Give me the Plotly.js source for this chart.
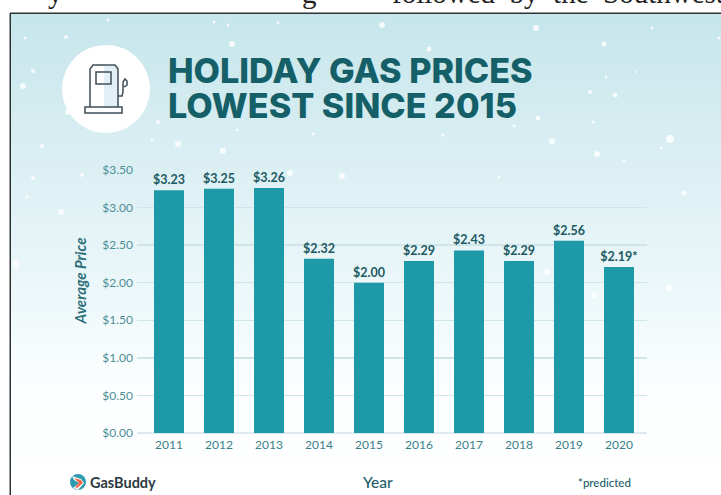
<!DOCTYPE html>
<html><head><meta charset="utf-8">
<script src="https://cdn.plot.ly/plotly-3.0.1.min.js"></script>
<style>
html,body{margin:0;padding:0;background:#fff;width:721px;height:495px;overflow:hidden}
#bg{position:absolute;left:11px;top:14px;width:710px;height:481px;background:linear-gradient(180deg,#c6e6eb 0%,#dff1f5 37%,#edf8fa 59%,#fbfeff 76%,#ffffff 100%)}
#chart{position:absolute;left:0;top:0;width:721px;height:495px}
</style></head><body>
<div id="bg"></div><div id="chart"></div>
<script>
const years=['2011','2012','2013','2014','2015','2016','2017','2018','2019','2020'];
const prices=[3.23,3.25,3.26,2.32,2.00,2.29,2.43,2.29,2.56,2.21];
const priceLabels=['$3.23','$3.25','$3.26','$2.32','$2.00','$2.29','$2.43','$2.29','$2.56','$2.19*'];
const snowX=[108,214,228,278,66,25,232,33,23,68,158,237,152,178,223,42,82,33,290,342,313,382,536,652,604,429,719,606,636,590,615,538,514,593,443,552,597,670,661,624,499,684,61,16,27,547,594,669];
const snowY=[20,22,25,23,37,38,44,71,86,112,122,130,140,144,151,146,175,178,173,176,134,25,28,28,44,49,38,77,72,92,95,118,126,122,135,141,154,139,148,161,177,193,212,264,197,272,295,288];
const snowR=[1.5,1.5,1.5,1.5,2,1.5,3,2,3,3,2,1.5,1.5,3,3,2,2,2,3,3,1.5,3,3,1.5,2.5,2.5,1.5,1.5,1,2,2.5,2.5,1.5,1.5,1.5,3,3,4,1.5,1.5,1.5,2.5,3,3.5,1.5,3,3,3];
const W=721,H=495;
const px=x=>x/W, py=y=>1-y/H;
const shapes=[];
function circ(x,y,r,fill,line){shapes.push({type:'circle',layer:'below',xref:'paper',yref:'paper',x0:px(x-r),x1:px(x+r),y0:py(y+r),y1:py(y-r),fillcolor:fill,line:line||{width:0}});}
function rect(x0,y0,x1,y1,fill,line,layer){shapes.push({type:'rect',layer:layer||'below',xref:'paper',yref:'paper',x0:px(x0),x1:px(x1),y0:py(y1),y1:py(y0),fillcolor:fill,line:line||{width:0}});}
function path(pts,close,fill,line){const d=pts.map((p,i)=>(i?'L':'M')+px(p[0])+','+py(p[1])).join(' ')+(close?' Z':'');shapes.push({type:'path',layer:'below',xref:'paper',yref:'paper',path:d,fillcolor:fill||'rgba(0,0,0,0)',line:line});}
snowX.forEach((x,i)=>circ(x,snowY[i],snowR[i],'rgba(255,255,255,0.8)'));
circ(106,89,44,'#ffffff');
const ink={color:'#3e4f59',width:1.5};
rect(104,66,118,107,'#e2f0f5');
path([[90,107],[90,69],[93,65],[115,65],[118,69],[118,107]],false,null,ink);
rect(96,72,111,84,'rgba(0,0,0,0)',ink);
rect(85,107,122,113,'#ffffff',ink);
path([[118,96],[122,96],[123,92],[123,82],[125,79],[127,81],[127,85],[124,87]],false,null,ink);
rect(10,12.5,721,14,'#2e3436');
rect(9.5,13,11,495,'#2e3436');
circ(78,482,8,'#2e9cb0');
path([[72,476],[81,479],[84,483],[78,490],[73,488],[79,483],[74,480]],true,'#ffffff',{width:0});
path([[74,478],[81,480],[83,483],[77,488],[75,487],[79,483]],true,'#ee6a4d',{width:0});
const ann=[
 {text:'HOLIDAY GAS PRICES',x:165.5,y:70,size:34.2,color:'#155f68',anchor:'left',weight:800,fam:'Inter, sans-serif'},
 {text:'LOWEST SINCE 2015',x:165.5,y:105,size:34.2,color:'#155f68',anchor:'left',weight:800,fam:'Inter, sans-serif'},
 {text:'GasBuddy',x:88,y:482,size:14.5,color:'#2b3a42',anchor:'left',weight:700},
 {text:'Year',x:377,y:482,size:15.5,color:'#1d5f68',anchor:'center',weight:500},
 {text:'*predicted',x:604,y:482,size:11.5,color:'#1d5f68',anchor:'center',weight:500}
].map(a=>({text:a.text,xref:'paper',yref:'paper',x:px(a.x),y:py(a.y),xanchor:a.anchor,yanchor:'middle',showarrow:false,
  font:{family:a.fam||'Lato, sans-serif',size:a.size,color:a.color,weight:a.weight}}));
ann.push({text:'<i><b>Average Price</b></i>',xref:'paper',yref:'paper',x:px(79),y:py(281.5),xanchor:'center',yanchor:'middle',textangle:-90,showarrow:false,font:{family:'Lato, sans-serif',size:15,color:'#2c6f78'}});
const serif={family:'Liberation Serif, serif',size:29,color:'#222'};
ann.push({text:'followed&nbsp;&nbsp;by&nbsp;&nbsp;the&nbsp;&nbsp;Southwest',xref:'paper',yref:'paper',x:px(390),y:py(-7),xanchor:'left',yanchor:'middle',showarrow:false,font:serif});
ann.push({text:'y',xref:'paper',yref:'paper',x:px(46),y:py(-7),xanchor:'left',yanchor:'middle',showarrow:false,font:serif});
ann.push({text:'g',xref:'paper',yref:'paper',x:px(300),y:py(-7),xanchor:'left',yanchor:'middle',showarrow:false,font:serif});
Plotly.newPlot('chart',[{type:'bar',x:years,y:prices,text:priceLabels,textposition:'outside',cliponaxis:false,constraintext:'none',
  textfont:{family:'Lato, sans-serif',size:12.5,color:'#1c5a63',weight:700},
  marker:{color:'#1e99a8'},width:0.6,hoverinfo:'skip'}],{
  width:W,height:H,margin:{l:0,r:0,t:0,b:0,pad:0},autosize:false,
  paper_bgcolor:'rgba(0,0,0,0)',plot_bgcolor:'rgba(0,0,0,0)',showlegend:false,
  font:{family:'Lato, sans-serif'},
  xaxis:{domain:[137/W,647/W],type:'category',range:[-0.64,9.56],showgrid:false,ticks:'',zeroline:false,showline:false,
    tickfont:{size:12,color:'#3a7f88'},tickangle:0,automargin:false,ticklabelstandoff:3},
  yaxis:{domain:[(H-433)/H,(H-170)/H],range:[0,3.5],dtick:0.5,tick0:0,tickformat:'$.2f',showgrid:true,gridcolor:'#cfe5e8',gridwidth:1.5,
    zeroline:true,zerolinecolor:'#dde9ec',zerolinewidth:2,ticks:'',tickfont:{size:12,color:'#4d8f97'},automargin:false,ticklabelstandoff:3},
  shapes:shapes,annotations:ann,bargap:0.4
},{staticPlot:true,displayModeBar:false});
</script></body></html>
